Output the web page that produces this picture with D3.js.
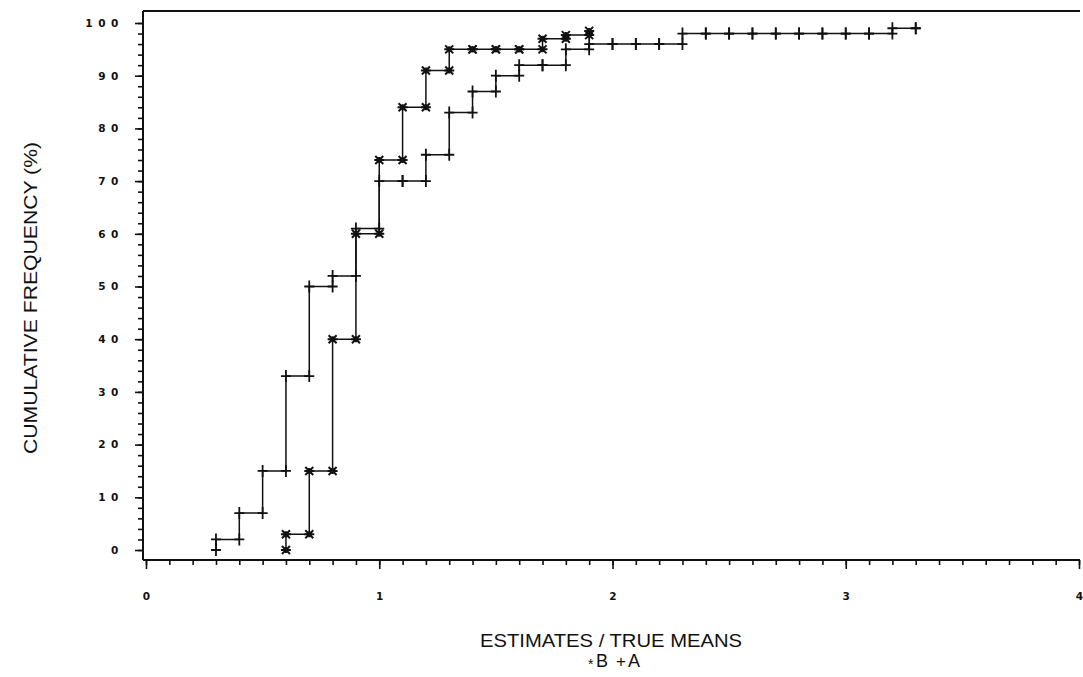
<!DOCTYPE html>
<html>
<head>
<meta charset="utf-8">
<script src="https://cdn.jsdelivr.net/npm/d3@7"></script>
<style>
  html, body { margin: 0; padding: 0; background: #fff; }
  svg { display: block; }
</style>
</head>
<body>
<svg id="chart" width="1083" height="677"></svg>
<script>
// ---- data ----
const xA = [0.3,0.4,0.5,0.6,0.7,0.8,0.9,1.0,1.1,1.2,1.3,1.4,1.5,1.6,1.7,1.8,1.9,2.0,2.1,2.2,2.3,2.4,2.5,2.6,2.7,2.8,2.9,3.0,3.1,3.2,3.3];
const yA = [2,7,15,33,50,52,61,70,70,75,83,87,90,92,92,95,96,96,96,96,98,98,98,98,98,98,98,98,98,99,99];
const xB = [0.6,0.7,0.8,0.9,1.0,1.1,1.2,1.3,1.4,1.5,1.6,1.7,1.8,1.9];
const yB = [3,15,40,60,74,84,91,95,95,95,95,97,97.7,98.5];
const yTicks = [0,10,20,30,40,50,60,70,80,90,100];
const xTicks = [0,1,2,3,4];
const xTitle = "ESTIMATES / TRUE MEANS";
const yTitle = "CUMULATIVE FREQUENCY (%)";
const legendItems = [{sym: "*", label: "B"}, {sym: "+", label: "A"}];

// ---- layout ----
const svg = d3.select("#chart");
const x = d3.scaleLinear().domain([0, 4]).range([146, 1079]);
const y = d3.scaleLinear().domain([0, 100]).range([550, 23]);
const axisX = 143, axisY = 560, topY = 11;
const ink = "#111";

// frame lines
svg.append("line").attr("x1", axisX).attr("x2", axisX).attr("y1", topY).attr("y2", axisY)
  .attr("stroke", ink).attr("stroke-width", 2);
svg.append("line").attr("x1", axisX).attr("x2", 1080).attr("y1", topY).attr("y2", topY)
  .attr("stroke", ink).attr("stroke-width", 2);
svg.append("line").attr("x1", axisX).attr("x2", 1080).attr("y1", axisY).attr("y2", axisY)
  .attr("stroke", ink).attr("stroke-width", 2);

// y axis minor / major ticks
const gy = svg.append("g").attr("transform", `translate(${axisX},0)`);
gy.call(d3.axisLeft(y).tickValues(d3.range(0, 101, 2)).tickSize(5).tickFormat(""))
  .call(g => g.select(".domain").remove());
const gyMaj = svg.append("g").attr("transform", `translate(${axisX},0)`);
gyMaj.call(d3.axisLeft(y).tickValues(yTicks).tickSize(8).tickPadding(18)
    .tickFormat(d => String(d)))
  .call(g => g.select(".domain").remove());
[gy, gyMaj].forEach(g => g.selectAll(".tick line").attr("stroke", ink).attr("stroke-width", 1.6));
gyMaj.selectAll(".tick text")
  .attr("font-family", "DejaVu Sans, Liberation Sans, Arial, sans-serif")
  .attr("font-weight", "bold").attr("font-size", 10.5)
  .attr("letter-spacing", "5.6px").attr("x", -19).attr("fill", ink);

// x axis minor / major ticks
const gx = svg.append("g").attr("transform", `translate(0,${axisY})`);
gx.call(d3.axisBottom(x).tickValues(d3.range(0, 41).map(i => i / 10)).tickSize(5).tickFormat(""))
  .call(g => g.select(".domain").remove());
const gxMaj = svg.append("g").attr("transform", `translate(0,${axisY})`);
gxMaj.call(d3.axisBottom(x).tickValues(xTicks).tickSize(9).tickPadding(24).tickFormat(d => String(d)))
  .call(g => g.select(".domain").remove());
[gx, gxMaj].forEach(g => g.selectAll(".tick line").attr("stroke", ink).attr("stroke-width", 1.6));
gxMaj.selectAll(".tick text")
  .attr("font-family", "DejaVu Sans, Liberation Sans, Arial, sans-serif")
  .attr("font-weight", "bold").attr("font-size", 10.5).attr("fill", ink);

// ---- series ----
function series(xs, ys) {
  const pts = [[xs[0], 0]].concat(xs.map((v, i) => [v, ys[i]]));
  const marks = [[xs[0], 0]];
  xs.forEach((v, i) => {
    marks.push([v, ys[i]]);
    if (i + 1 < xs.length) marks.push([xs[i + 1], ys[i]]);
  });
  return {pts, marks};
}
const line = d3.line().x(d => x(d[0])).y(d => y(d[1])).curve(d3.curveStepAfter);
const plusPath = "M-5,0H5M0,-6V6";
const starPath = "M-5,0H5M-4,-4L4,4M-4,4L4,-4M0,-3V3";

function drawSeries(xs, ys, sym) {
  const s = series(xs, ys);
  svg.append("path").datum(s.pts).attr("d", line)
    .attr("fill", "none").attr("stroke", ink).attr("stroke-width", 1.5);
  svg.append("g").selectAll("path").data(s.marks).join("path")
    .attr("transform", d => `translate(${x(d[0])},${y(d[1])})`)
    .attr("d", sym === "+" ? plusPath : starPath)
    .attr("fill", "none").attr("stroke", ink)
    .attr("stroke-width", sym === "+" ? 1.8 : 2);
}
drawSeries(xA, yA, "+");
drawSeries(xB, yB, "*");

// ---- titles ----
svg.append("text").attr("x", 611).attr("y", 647).attr("text-anchor", "middle")
  .attr("font-family", "Liberation Sans, Arial, sans-serif").attr("font-size", 19)
  .attr("textLength", 262).attr("lengthAdjust", "spacingAndGlyphs")
  .attr("fill", ink).text(xTitle);
svg.append("text").attr("transform", "translate(37,298) rotate(-90)").attr("text-anchor", "middle")
  .attr("font-family", "Liberation Sans, Arial, sans-serif").attr("font-size", 19)
  .attr("textLength", 312).attr("lengthAdjust", "spacingAndGlyphs")
  .attr("fill", ink).text(yTitle);

// legend
const lg = svg.append("g").attr("font-family", "Liberation Sans, Arial, sans-serif").attr("fill", ink);
const legendX = [588, 616];
legendItems.forEach((it, i) => {
  lg.append("text").attr("x", legendX[i]).attr("y", it.sym === "*" ? 669 : 667)
    .attr("font-size", it.sym === "*" ? 14 : 17).text(it.sym);
  lg.append("text").attr("x", legendX[i] + (it.sym === "*" ? 8 : 12)).attr("y", 667)
    .attr("font-size", 18).text(it.label);
});
</script>
</body>
</html>
